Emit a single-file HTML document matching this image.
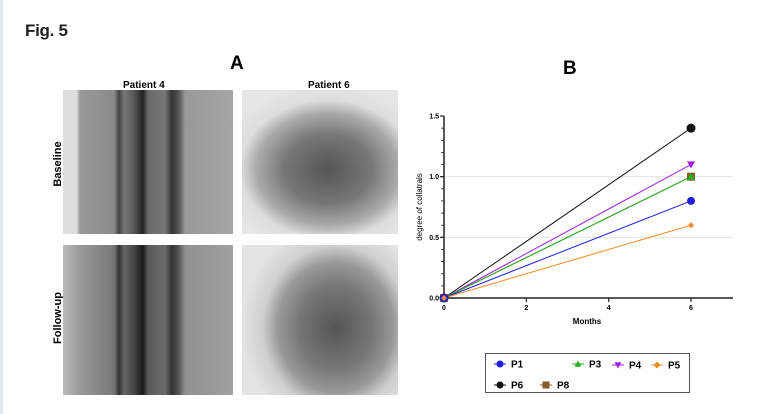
<!DOCTYPE html>
<html><head><meta charset="utf-8">
<style>
body{margin:0;width:781px;height:414px;background:#fff;position:relative;overflow:hidden;font-family:"Liberation Sans",sans-serif}
.abs{position:absolute}
.img{position:absolute;overflow:hidden}
</style></head>
<body>
<div class="abs" style="left:0;top:0;width:3px;height:414px;background:#dfe9ef"></div>
<div class="abs" style="left:25px;top:21px;font-size:17px;font-weight:bold;color:#222;letter-spacing:-0.3px">Fig. 5</div>
<div class="abs" style="left:230px;top:53px;font-size:19px;font-weight:bold">A</div>
<div class="abs" style="left:563px;top:58px;font-size:19px;font-weight:bold">B</div>
<div class="abs" style="left:123px;top:80px;font-size:10px;font-weight:bold">Patient 4</div>
<div class="abs" style="left:308px;top:80px;font-size:10px;font-weight:bold">Patient 6</div>
<div class="abs" style="left:28px;top:158px;font-size:11px;font-weight:bold;transform:rotate(-90deg);transform-origin:center;width:60px;text-align:center">Baseline</div>
<div class="abs" style="left:23px;top:312px;font-size:11px;font-weight:bold;transform:rotate(-90deg);transform-origin:center;width:70px;text-align:center">Follow-up</div>

<div class="img" style="left:63px;top:90px;width:170px;height:144px;background:linear-gradient(90deg,#ddd 0,#ddd 8%,#9a9a9a 10%,#8a8a8a 30%,#444 33%,#777 36%,#555 42%,#222 47%,#6a6a6a 50%,#777 60%,#333 64%,#555 68%,#999 72%,#a5a5a5 100%)"></div>
<div class="img" style="left:63px;top:245px;width:170px;height:150px;background:linear-gradient(90deg,#bbb 0,#9a9a9a 10%,#777 30%,#333 33%,#666 36%,#444 42%,#1a1a1a 47%,#5a5a5a 50%,#6a6a6a 60%,#333 64%,#555 68%,#909090 72%,#a0a0a0 100%)"></div>
<div class="img" style="left:242px;top:90px;width:156px;height:144px;background:radial-gradient(ellipse 70% 60% at 55% 55%,#555 0,#777 40%,#aaa 65%,#ddd 80%,#e6e6e6 100%)"></div>
<div class="img" style="left:242px;top:245px;width:156px;height:150px;background:radial-gradient(ellipse 60% 70% at 60% 55%,#555 0,#777 40%,#999 62%,#cfcfcf 78%,#e3e3e3 100%)"></div>

<svg class="abs" style="left:0;top:0" width="781" height="414">
<g id="plot"></g>
</svg>

<div class="abs" style="left:485px;top:353px;width:205px;height:40px;border:1px solid #555;box-sizing:border-box"></div>

<script>
const months=[0,6];
const seriesNames=["P1","P3","P4","P5","P6","P8"];
const p1=[0,0.8],p3=[0,1.0],p4=[0,1.1],p5=[0,0.6],p6=[0,1.4],p8=[0,1.0];
const yTicks=[0,0.5,1.0,1.5];
const yTickLabels=["0.0","0.5","1.0","1.5"];
const xTicks=[0,2,4,6];
const colors=["#1f1fe0","#22b022","#a020e0","#f08c20","#111","#8b5a2b"];
const markers=["circle","tri","tridown","diamond","circle","square"];
const data=[p1,p3,p4,p5,p6,p8];
const X=v=>444+v*(691-444)/6;
const Y=v=>298-v*(298-116)/1.5;
const NS="http://www.w3.org/2000/svg";
const g=document.getElementById('plot');
function mk(t,a){const e=document.createElementNS(NS,t);for(const k in a)e.setAttribute(k,a[k]);g.appendChild(e);return e;}
function marker(type,cx,cy,c,r){
  if(type==="circle") return mk('circle',{cx,cy,r,fill:c});
  if(type==="square") return mk('rect',{x:cx-r,y:cy-r,width:2*r,height:2*r,fill:c});
  if(type==="tri") return mk('polygon',{points:`${cx},${cy-r} ${cx+r},${cy+r*0.8} ${cx-r},${cy+r*0.8}`,fill:c});
  if(type==="tridown") return mk('polygon',{points:`${cx-r},${cy-r*0.8} ${cx+r},${cy-r*0.8} ${cx},${cy+r}`,fill:c});
  return mk('polygon',{points:`${cx},${cy-r} ${cx+r},${cy} ${cx},${cy+r} ${cx-r},${cy}`,fill:c});
}
[0.5,1.0].forEach(v=>{const l=mk('line',{x1:444,x2:733,y1:Y(v),y2:Y(v),stroke:'#e4e4e4','stroke-width':1});

});
let ax=mk('line',{x1:444,x2:444,y1:116,y2:298,stroke:'#222','stroke-width':1.5});


ax=mk('line',{x1:444,x2:733,y1:298,y2:298,stroke:'#222','stroke-width':1.5});


for(let v=0;v<=1.5001;v+=0.1){mk('line',{x1:441,x2:444,y1:Y(v),y2:Y(v),stroke:'#222','stroke-width':0.8});}
yTicks.forEach((v,i)=>{mk('line',{x1:440,x2:444,y1:Y(v),y2:Y(v),stroke:'#222','stroke-width':1.2});
const t=mk('text',{x:439,y:Y(v)+2.5,'text-anchor':'end','font-size':7,'font-weight':'bold','font-family':'Liberation Sans'});t.textContent=yTickLabels[i];

});
xTicks.forEach(v=>{mk('line',{x1:X(v),x2:X(v),y1:298,y2:302,stroke:'#222','stroke-width':1.2});
const t=mk('text',{x:X(v),y:310,'text-anchor':'middle','font-size':7,'font-weight':'bold','font-family':'Liberation Sans'});t.textContent=v;

});
let t=mk('text',{x:587,y:324,'text-anchor':'middle','font-size':8,'font-weight':'bold','font-family':'Liberation Sans'});t.textContent='Months';


t=mk('text',{x:0,y:0,'text-anchor':'middle','font-size':8,'font-family':'Liberation Sans',transform:'translate(422,207) rotate(-90)'});t.textContent='degree of collatrals';


const order=[5,4,2,1,0,3];
order.forEach(i=>{const d=data[i];
const l=mk('polyline',{points:months.map((m,j)=>X(m)+','+Y(d[j])).join(' '),fill:'none',stroke:colors[i],'stroke-width':1});

});
order.forEach(i=>{const d=data[i];months.forEach((m,j)=>{const r=i===4?4.5:(i===3?3:4);
const e=marker(markers[i],X(m),Y(d[j]),colors[i],r);

});});
const legPos=[[500,364],[578,364],[618,365],[657,365],[500,385],[546,385]];
seriesNames.forEach((n,i)=>{const [x,y]=legPos[i];
mk('line',{x1:x-6,x2:x+6,y1:y,y2:y,stroke:colors[i],'stroke-width':1});
const m=marker(markers[i],x,y,colors[i],3.5);


const tx=mk('text',{x:x+11,y:y+3.5,'font-size':10,'font-weight':'bold','font-family':'Liberation Sans'});tx.textContent=n;

});
</script>
</body></html>
